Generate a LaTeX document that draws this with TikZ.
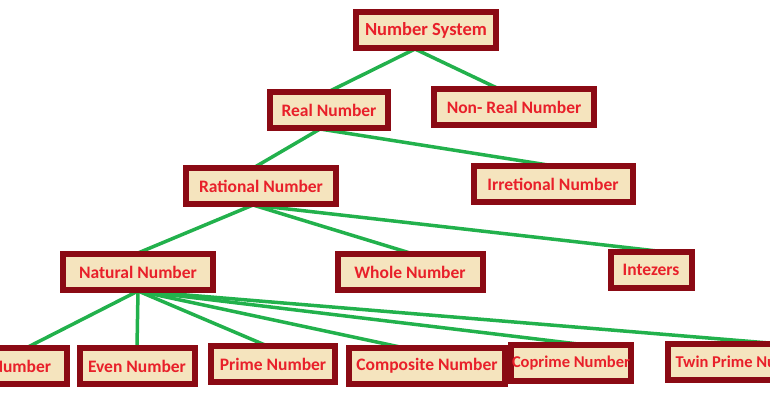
\documentclass[tikz,border=0pt]{standalone}
\usepackage{fontspec}
\setmainfont{Carlito}
\definecolor{boxfill}{HTML}{F5E4BE}
\definecolor{boxline}{HTML}{8B0A14}
\definecolor{boxtext}{HTML}{E8202A}
\definecolor{linkgreen}{HTML}{22B14C}
\begin{document}
\begin{tikzpicture}[x=1pt,y=-1pt]
      \tikzset{box/.style={draw=boxline,line width=4pt,fill=boxfill,text=boxtext,
          font=\fontsize{17.5}{19}\selectfont\bfseries,inner sep=0pt,minimum height=34pt},
        small/.style={font=\fontsize{16.5}{18}\selectfont\bfseries},
        link/.style={draw=linkgreen,line width=3.5pt}}
      \useasboundingbox (0,0) rectangle (770,404);
      \clip (0,0) rectangle (770,404);
      % level 0-1
      \node [box,minimum width=138pt,font=\fontsize{18.5}{20}\selectfont\bfseries] (ns) at (426,30) {Number System};
      \node [box,minimum width=116pt] (rn) at (329,110) {Real Number};
      \node [box,minimum width=158pt] (nrn) at (514,107) {Non- Real Number};
      % level 2
      \node [box,minimum width=148pt] (rat) at (261,186) {Rational Number};
      \node [box,minimum width=157pt] (irr) at (553,184) {Irretional Number};
      % level 3
      \node [box,minimum width=148pt] (nat) at (138,272) {Natural Number};
      \node [box,minimum width=143pt] (whole) at (410,272) {Whole Number};
      \node [box,minimum width=79pt] (intz) at (651,270) {Intezers};
      % level 4
      \node [box,minimum width=124pt] (odd) at (4,366) {Odd Number};
      \node [box,minimum width=113pt] (even) at (137,366) {Even Number};
      \node [box,minimum width=122pt] (prime) at (273,364) {Prime Number};
      \node [box,minimum width=154pt] (comp) at (427,366) {Composite Number};
      \node [box,small,minimum width=112pt] (copr) at (571,363) {Coprime Number};
      \node [box,small,minimum width=150pt] (twin) at (744,362) {Twin Prime Number};
      % links
      \draw [link] ([xshift=-11pt]ns.south) -- ([xshift=1pt]rn.north);
      \draw [link] ([xshift=-11pt]ns.south) -- ([xshift=-17pt]nrn.north);
      \draw [link] ([xshift=-9pt]rn.south) -- ([xshift=-6pt]rat.north);
      \draw [link] ([xshift=-9pt]rn.south) -- ([xshift=-5pt]irr.north);
      \draw [link] ([xshift=-8pt]rat.south) -- (nat.north);
      \draw [link] ([xshift=-8pt]rat.south) -- (whole.north);
      \draw [link] ([xshift=-8pt]rat.south) -- ([xshift=6pt]intz.north);
      \foreach \leaf/\dx in {odd/24,even/0,prime/-8,comp/-27,copr/7,twin/25}
        \draw [link] (nat.south) -- ([xshift=\dx pt]\leaf.north);
      % boxes again on top of the links
      \foreach \n in {ns,rn,nrn,rat,irr,nat,whole,intz,odd,even,prime,comp,copr,twin}
        \draw [boxline,line width=4pt] (\n.north west) rectangle (\n.south east);
\end{tikzpicture}
\end{document}
